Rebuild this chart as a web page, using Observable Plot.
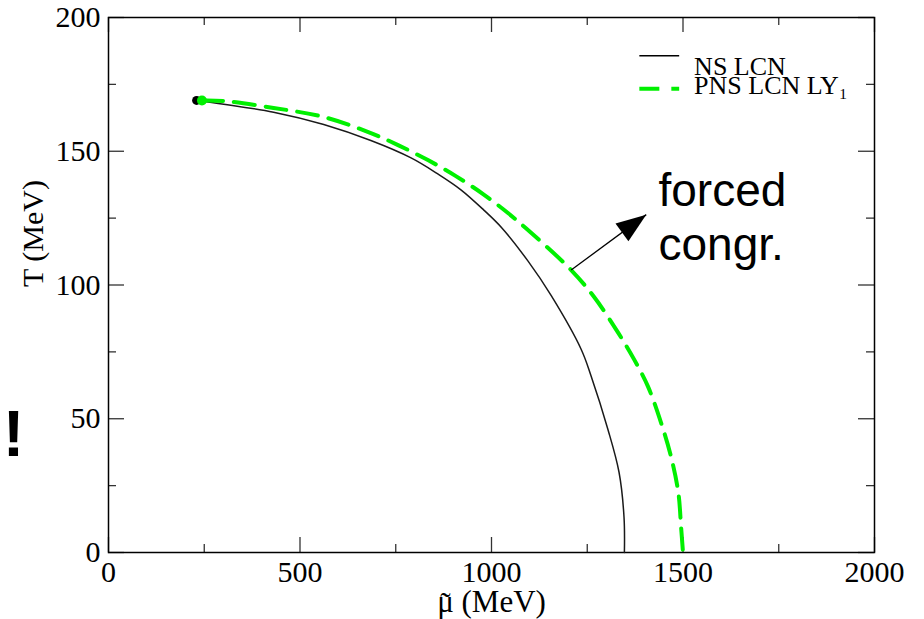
<!DOCTYPE html>
<html>
<head>
<meta charset="utf-8">
<script src="https://cdn.jsdelivr.net/npm/d3@7"></script>
<script src="https://cdn.jsdelivr.net/npm/@observablehq/plot@0.6"></script>
<style>
  html, body { margin: 0; padding: 0; background: #fff; }
  #chart svg { display: block; }
</style>
</head>
<body>
<div id="chart"></div>
<script>
// NS LCN (black solid)
const nsMu = [230, 301, 431, 562, 685, 790, 860, 921, 980, 1026, 1095, 1156, 1234, 1260, 1304, 1333, 1346, 1347];
const nsT  = [169, 167.6, 164.6, 160.0, 154.0, 147.5, 141.5, 135.5, 128.0, 121.5, 109.0, 96.0, 76.0, 66.0, 46.0, 30.0, 13.2, 0];
// PNS LCN LY1 (green dashed)
const pnsMu = [244, 301, 431, 562, 685, 756, 834, 907, 978, 1043, 1090, 1208, 1268, 1331, 1373, 1409, 1443, 1469, 1488, 1495, 1500];
const pnsT  = [169, 168.8, 166.2, 162.8, 156.8, 152.3, 146.7, 140.7, 134.0, 126.9, 121.2, 105.6, 95.5, 82.1, 72.0, 61.9, 48.4, 35.7, 22.2, 9.5, 0];

const xMajor = [0, 500, 1000, 1500, 2000];
const xMinor = [250, 750, 1250, 1750];
const yMajor = [0, 50, 100, 150, 200];
const yMinor = [25, 75, 125, 175];

const xTitle = "μ (MeV)";
const xTitleAccent = "˜";
const yTitle = "T (MeV)";
const legendLabels = ["NS LCN", "PNS LCN LY₁"];
const legendY = [185.7, 173.4];      // legend sample line positions (T units)
const legendTextY = [178.6, 171.5];  // legend text baselines (T units)
const legendX = [1386, 1490, 1529];  // sample start, sample end, text start (MeV)

const annotation = "forced\ncongr.";
const annotationPos = [1436, 109.4];
const arrowFrom = [1208, 105.6];
const arrowTo = [1404, 126.3];
const stray = "!";

const green = "#00f000";
const ns = nsMu.map((x, i) => ({x, y: nsT[i]}));
const pns = pnsMu.map((x, i) => ({x, y: pnsT[i]}));

const frameW = 924 - 108 - 50, frameH = 619 - 17 - 67;
const major = 15, minor = 8;

const headSymbol = {
  draw(context) {
    context.moveTo(0, 0);
    context.lineTo(-11, 30);
    context.lineTo(11, 30);
    context.closePath();
  }
};

const tickStyle = {stroke: "#333", strokeWidth: 1.3};

const chart = Plot.plot({
  width: 924,
  height: 619,
  marginLeft: 108,
  marginRight: 50,
  marginTop: 17,
  marginBottom: 67,
  x: {domain: [0, 2000]},
  y: {domain: [0, 200]},
  style: {fontFamily: "'Liberation Serif', serif", fontSize: "30px", color: "black", background: "white", overflow: "visible"},
  marks: [
    // inward ticks on all four sides
    Plot.tickX(xMajor, {x: d => d, insetTop: frameH - major, ...tickStyle}),
    Plot.tickX(xMinor, {x: d => d, insetTop: frameH - minor, ...tickStyle}),
    Plot.tickX(xMajor, {x: d => d, insetBottom: frameH - major, ...tickStyle}),
    Plot.tickX(xMinor, {x: d => d, insetBottom: frameH - minor, ...tickStyle}),
    Plot.tickY(yMajor, {y: d => d, insetRight: frameW - major - 1, ...tickStyle}),
    Plot.tickY(yMinor, {y: d => d, insetRight: frameW - minor, ...tickStyle}),
    Plot.tickY(yMajor, {y: d => d, insetLeft: frameW - major - 1, ...tickStyle}),
    Plot.tickY(yMinor, {y: d => d, insetLeft: frameW - minor, ...tickStyle}),
    Plot.frame({stroke: "black", strokeWidth: 1.5}),
    Plot.axisX(xMajor, {tickSize: 0, tickPadding: 8, label: null, fontSize: 30, tickFormat: d => String(d)}),
    Plot.axisY(yMajor, {tickSize: 0, tickPadding: 8, label: null, fontSize: 30, tickFormat: d => String(d)}),
    // axis titles
    Plot.text([xTitle], {frameAnchor: "bottom", dy: 59, lineAnchor: "bottom", fontSize: 31}),
    Plot.text([xTitleAccent], {frameAnchor: "bottom", dx: -46, dy: 61, lineAnchor: "bottom", fontSize: 31}),
    Plot.text([yTitle], {frameAnchor: "left", dx: -75, dy: 2, rotate: -90, lineAnchor: "middle", fontSize: 30}),
    // curves
    Plot.line(ns, {x: "x", y: "y", stroke: "#1a1a1a", strokeWidth: 1.5, curve: "catmull-rom"}),
    Plot.line(pns, {x: "x", y: "y", stroke: green, strokeWidth: 4, strokeDasharray: "21,11", curve: "catmull-rom"}),
    Plot.dot([ns[0]], {x: "x", y: "y", r: 4.5, fill: "black"}),
    Plot.dot([pns[0]], {x: "x", y: "y", r: 5, fill: green}),
    // legend
    Plot.link([0], {x1: legendX[0], x2: legendX[1], y1: legendY[0], y2: legendY[0], stroke: "black", strokeWidth: 1.5}),
    Plot.link([1], {x1: legendX[0], x2: legendX[1], y1: legendY[1], y2: legendY[1], stroke: green, strokeWidth: 4, strokeDasharray: "20,12"}),
    Plot.text(legendLabels, {x: legendX[2], y: (d, i) => legendTextY[i], text: d => d, textAnchor: "start", lineAnchor: "bottom", fontSize: 26}),
    // annotation arrow
    Plot.link([0], {x1: arrowFrom[0], y1: arrowFrom[1], x2: arrowTo[0], y2: arrowTo[1], stroke: "black", strokeWidth: 1.3}),
    Plot.dot([arrowTo], {x: d => d[0], y: d => d[1], symbol: headSymbol, rotate: 54, fill: "black", stroke: "none"}),
    Plot.text([annotation], {x: annotationPos[0], y: annotationPos[1], textAnchor: "start", lineAnchor: "bottom", lineHeight: 1.17, fontSize: 46, fontFamily: "'Liberation Sans', Arial, sans-serif"}),
    // stray character from the neighbouring slide
    Plot.text([stray], {frameAnchor: "left", dx: -84, dy: 170.5, textAnchor: "end", lineAnchor: "bottom", fontSize: 65, fontWeight: "bold", fontFamily: "'Liberation Sans', Arial, sans-serif"})
  ]
});
document.getElementById("chart").appendChild(chart);
</script>
</body>
</html>
